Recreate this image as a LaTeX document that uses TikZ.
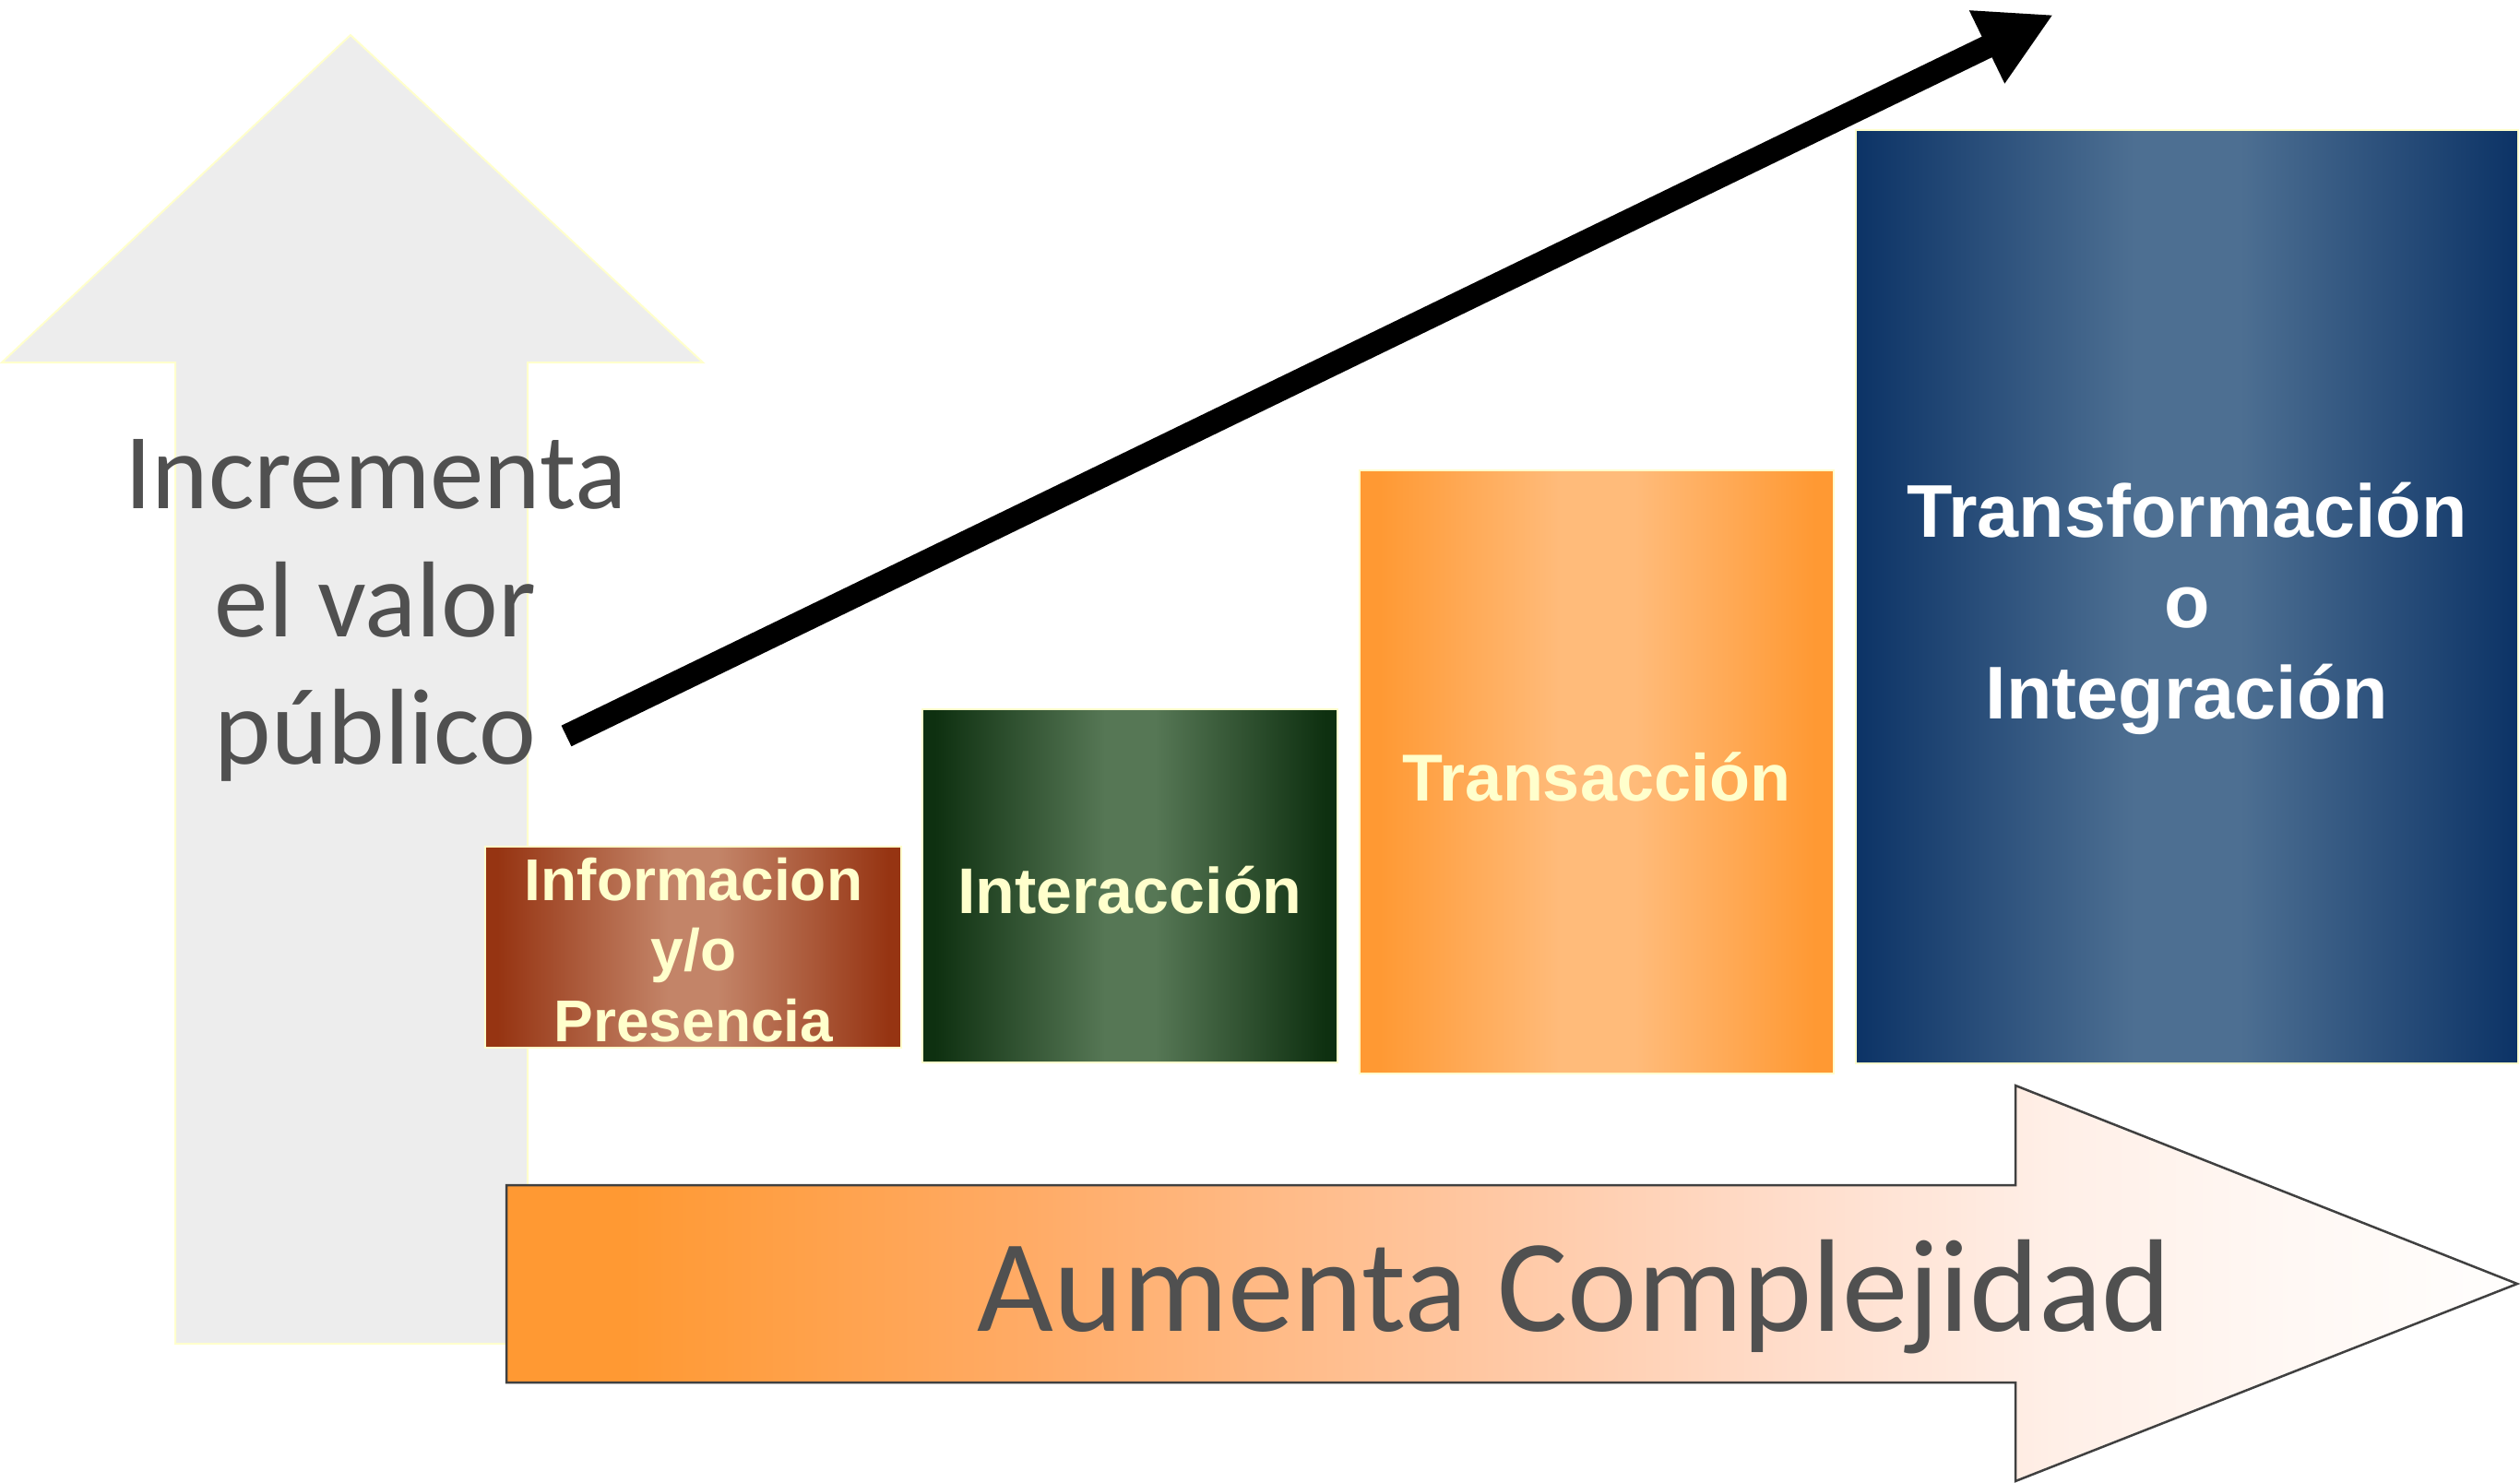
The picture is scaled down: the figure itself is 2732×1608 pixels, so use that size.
\documentclass[tikz,border=0pt]{standalone}
\usepackage{fontspec}
\usetikzlibrary{arrows.meta}
\newfontfamily\calfont{Carlito}
\newfontfamily\arfont{Liberation Sans}
\definecolor{upfill}{HTML}{EDEDED}
\definecolor{paleyel}{HTML}{FFFFCC}
\definecolor{txtgray}{HTML}{505050}
\definecolor{arrline}{HTML}{404040}
\definecolor{orA}{HTML}{FF9933}
\definecolor{orB}{HTML}{FFAB66}
\definecolor{orC}{HTML}{FFC9A6}
\definecolor{orD}{HTML}{FFDDCB}
\definecolor{orE}{HTML}{FFEFE7}
\definecolor{orF}{HTML}{FFF8F4}
\definecolor{orG}{HTML}{FFFEFD}
\definecolor{rustE}{HTML}{963412}
\definecolor{rustM}{HTML}{C38468}
\definecolor{grnE}{HTML}{0E3010}
\definecolor{grnM}{HTML}{567755}
\definecolor{oraE}{HTML}{FF9933}
\definecolor{oraM}{HTML}{FFBB7A}
\definecolor{bluE}{HTML}{0C3366}
\definecolor{bluM}{HTML}{4D6F92}
\pgfdeclarehorizontalshading{arrshade}{100bp}{color(0bp)=(orA); color(25bp)=(orA); color(28bp)=(orA); color(38bp)=(orB); color(50bp)=(orC); color(57bp)=(orD); color(63.5bp)=(orE); color(69.5bp)=(orF); color(75bp)=(orG); color(100bp)=(orG)}
\pgfdeclarehorizontalshading{rustshade}{100bp}{color(0bp)=(rustE); color(25bp)=(rustE); color(26.5bp)=(rustE); color(47bp)=(rustM); color(53bp)=(rustM); color(73.5bp)=(rustE); color(75bp)=(rustE); color(100bp)=(rustE)}
\pgfdeclarehorizontalshading{grnshade}{100bp}{color(0bp)=(grnE); color(25bp)=(grnE); color(26.5bp)=(grnE); color(47bp)=(grnM); color(53bp)=(grnM); color(73.5bp)=(grnE); color(75bp)=(grnE); color(100bp)=(grnE)}
\pgfdeclarehorizontalshading{orashade}{100bp}{color(0bp)=(oraE); color(25bp)=(oraE); color(27bp)=(oraE); color(46bp)=(oraM); color(54bp)=(oraM); color(73bp)=(oraE); color(75bp)=(oraE); color(100bp)=(oraE)}
\pgfdeclarehorizontalshading{blushade}{100bp}{color(0bp)=(bluE); color(25bp)=(bluE); color(46bp)=(bluM); color(54bp)=(bluM); color(75bp)=(bluE); color(100bp)=(bluE)}
\tikzset{
  uparrow/.style={fill=upfill, draw=paleyel, line width=2pt},
  rarrow/.style={draw=arrline, line width=2.5pt, shading=arrshade},
  stage/.style={draw=paleyel, line width=2pt, inner sep=0pt, outer sep=0pt},
  bigtext/.style={text=txtgray, inner sep=0pt, anchor=base},
  boxtext/.style={inner sep=0pt, anchor=base, font=\arfont\bfseries\fontsize{#1}{#1}\selectfont},
  boxtext/.default=64
}
\begin{document}
\begin{tikzpicture}[x=1pt,y=-1pt]
\useasboundingbox (0,0) rectangle (2732,1608);
% up arrow
\draw[uparrow] (380,38) -- (762,393) -- (572,393) -- (572,1457) -- (190,1457) -- (190,393) -- (2,393) -- cycle;
% right arrow
\draw[rarrow] (549,1285) -- (2185,1285) -- (2185,1177) -- (2729,1392) -- (2185,1606) -- (2185,1499) -- (549,1499) -- cycle;
% texts of big arrows
\node[bigtext, font=\calfont\fontsize{117}{117}\selectfont] (t1) at (407,551) {Incrementa};
\node[bigtext, font=\calfont\fontsize{117}{117}\selectfont] (t2) at (407,690) {el valor};
\node[bigtext, font=\calfont\fontsize{117}{117}\selectfont] (t3) at (407,828) {público};
\node[bigtext, font=\calfont\fontsize{143}{143}\selectfont] (t4) at (1707,1443) {Aumenta Complejidad};
% stage boxes
\node[stage, shading=rustshade, minimum width=451, minimum height=218] (b1) at (751.5,1027) {};
\node[stage, shading=grnshade, minimum width=450, minimum height=383] (b2) at (1225,960.5) {};
\node[stage, shading=orashade, minimum width=514, minimum height=654] (b3) at (1731,837) {};
\node[stage, shading=blushade, minimum width=718, minimum height=1012] (b4) at (2371,647) {};
% box texts
\node[boxtext=64, text=paleyel] (l1a) at (752,976) {Informacion};
\node[boxtext=64, text=paleyel] (l1b) at (752,1052) {y/o};
\node[boxtext=64, text=paleyel] (l1c) at (752,1129) {Presencia};
\node[boxtext=70, text=paleyel] (l2) at (1225,990) {Interacción};
\node[boxtext=72, text=paleyel] (l3) at (1731,868) {Transacción};
\node[boxtext=81, text=white] (l4a) at (2371,582) {Transformación};
\node[boxtext=81, text=white] (l4b) at (2371,680) {o};
\node[boxtext=81, text=white] (l4c) at (2371,779) {Integración};
% black arrow
\coordinate (s) at (614,798);
\coordinate (e) at (2226,16);
\draw[line width=25pt, -{Triangle[length=80pt,width=82pt]}] (s) -- (e);
\end{tikzpicture}
\end{document}
